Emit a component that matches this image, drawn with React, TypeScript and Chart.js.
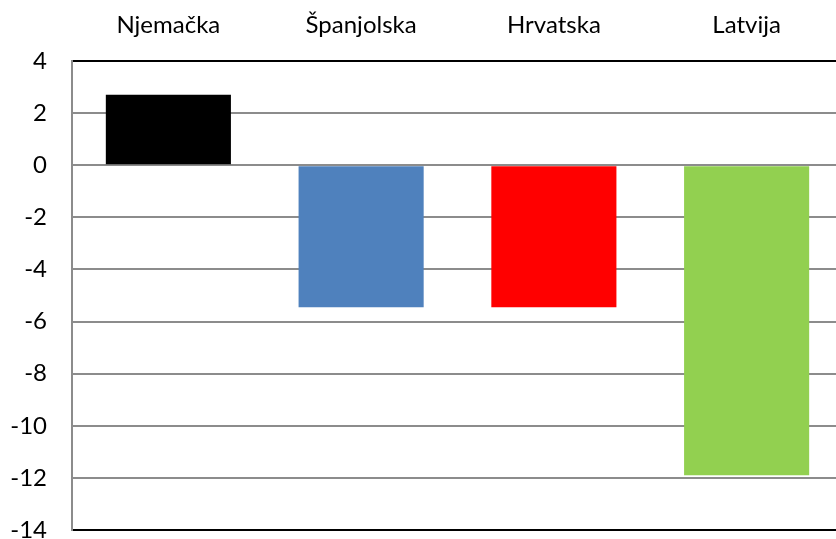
import React, { useEffect, useRef } from "react";
import { Chart, registerables } from "chart.js";

Chart.register(...registerables);

const categories: string[] = ["Njemačka", "Španjolska", "Hrvatska", "Latvija"];
const values: number[] = [2.7, -5.45, -5.45, -11.9];
const barColors: string[] = ["#000000", "#4F81BD", "#FF0000", "#92D050"];
const yMin = -14;
const yMax = 4;
const yStep = 2;

const FONT = "Lato, 'Open Sans', sans-serif";
const CANVAS_W = 843;

export default function App() {
  const ref = useRef<HTMLCanvasElement | null>(null);
  useEffect(() => {
    document.body.style.margin = "0";
    if (!ref.current) return;
    const chart = new Chart(ref.current, {
      type: "bar",
      data: {
        labels: categories,
        datasets: [
          {
            data: values,
            backgroundColor: barColors,
            borderWidth: 0,
            categoryPercentage: 0.649,
            barPercentage: 1,
          },
        ],
      },
      options: {
        animation: false,
        responsive: false,
        maintainAspectRatio: false,
        layout: { padding: { top: 0, right: 0, bottom: 9, left: 0 } },
        plugins: { legend: { display: false }, tooltip: { enabled: false } },
        scales: {
          x: {
            position: "top",
            grid: { display: false, drawTicks: false },
            border: { display: false },
            ticks: {
              color: "#000000",
              font: { family: FONT, size: 24 },
              padding: 21,
              maxRotation: 0,
            },
            afterFit: (s: any) => {
              s.height = 61;
              s.paddingLeft = 0;
              s.paddingRight = 0;
            },
          },
          y: {
            min: yMin,
            max: yMax,
            ticks: {
              stepSize: yStep,
              color: "#000000",
              font: { family: FONT, size: 24 },
              padding: 25,
            },
            grid: {
              drawTicks: false,
              lineWidth: 2,
              color: (ctx: any) =>
                ctx.tick && (ctx.tick.value === yMin || ctx.tick.value === yMax) ? "#000000" : "#8C8C8C",
            },
            border: { display: true, color: "#8C8C8C", width: 2 },
            afterFit: (s: any) => {
              s.width = 72;
              s.paddingTop = 0;
              s.paddingBottom = 0;
            },
          },
        },
      },
    });
    return () => chart.destroy();
  }, []);
  return (
    <div style={{ position: "absolute", left: 0, top: 0, width: 836, height: 539, overflow: "hidden", background: "#fff" }}>
      <canvas ref={ref} width={CANVAS_W} height={539} style={{ width: CANVAS_W, height: 539, display: "block" }} />
    </div>
  );
}
